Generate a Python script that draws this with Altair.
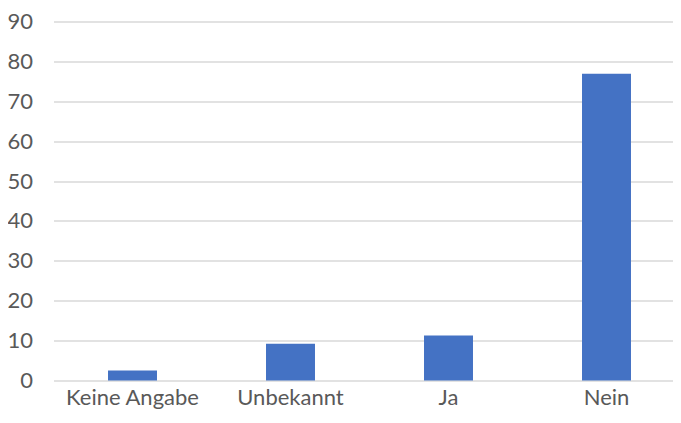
import altair as alt
import pandas as pd

categories = ["Keine Angabe", "Unbekannt", "Ja", "Nein"]
values = [2.5, 9.2, 11.3, 76.9]
y_ticks = [0, 10, 20, 30, 40, 50, 60, 70, 80, 90]

df = pd.DataFrame({"cat": categories, "val": values})

chart = alt.Chart(df).mark_bar(color="#4472C4").encode(
    x=alt.X("cat:N", sort=categories, title=None,
            scale=alt.Scale(paddingInner=0.69, paddingOuter=0.345, range=[0, 632]),
            axis=alt.Axis(labelAngle=0, ticks=False, domain=False, labelFont="Lato",
                          labelFontSize=22, labelColor="#595959", labelPadding=24,
                          labelBaseline="alphabetic")),
    y=alt.Y("val:Q", title=None,
            scale=alt.Scale(domain=[0, 90], nice=False),
            axis=alt.Axis(values=y_ticks, ticks=False, domain=False, labelFont="Lato",
                          labelFontSize=22, labelColor="#595959", labelPadding=21,
                          gridColor="#d9d9d9", gridWidth=1.5)),
).properties(
    width=619.5, height=359,
    autosize=alt.AutoSizeParams(type="none"),
    padding={"left": 45.5, "top": 13.5, "right": 0, "bottom": 34.5},
).configure_view(stroke=None)

chart.save("out.html", embed_options={"renderer": "svg", "actions": False})
